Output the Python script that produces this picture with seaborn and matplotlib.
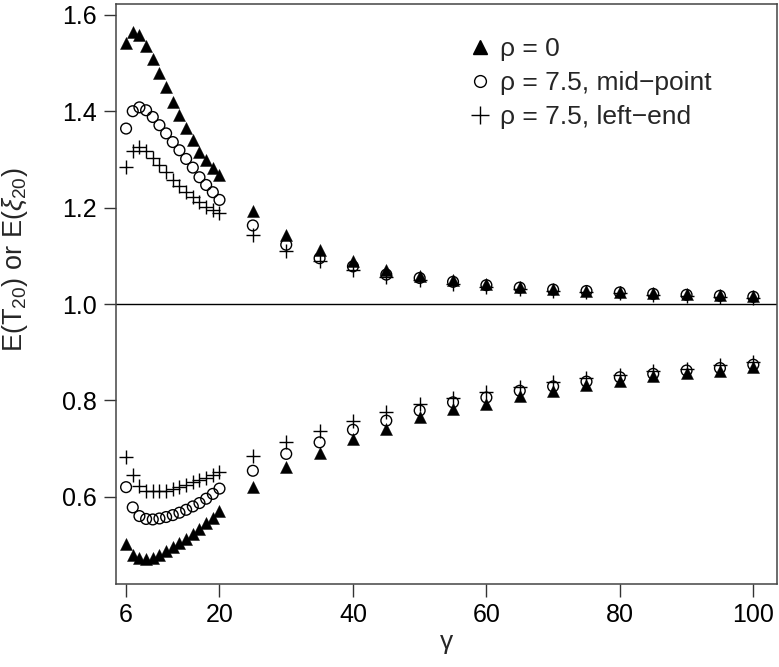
import matplotlib
matplotlib.use("Agg")
import matplotlib.pyplot as plt
import seaborn as sns
from matplotlib.lines import Line2D

# gamma grid: every 1 up to 20, then every 5
gamma = [6, 7, 8, 9, 10, 11, 12, 13, 14, 15, 16, 17, 18, 19, 20,
         25, 30, 35, 40, 45, 50, 55, 60, 65, 70, 75, 80, 85, 90, 95, 100]

# E(T20), upper branch
t_rho0 = [1.542, 1.565, 1.558, 1.535, 1.508, 1.480, 1.450, 1.420, 1.392,
          1.365, 1.340, 1.316, 1.298, 1.282, 1.267,
          1.192, 1.144, 1.113, 1.090, 1.071, 1.059, 1.050, 1.042, 1.036,
          1.032, 1.028, 1.025, 1.022, 1.020, 1.018, 1.016]
t_mid = [1.364, 1.400, 1.408, 1.402, 1.388, 1.371, 1.354, 1.336, 1.319,
         1.301, 1.283, 1.263, 1.247, 1.232, 1.216,
         1.163, 1.123, 1.095, 1.078, 1.061, 1.054, 1.046, 1.039, 1.034,
         1.030, 1.027, 1.024, 1.021, 1.019, 1.017, 1.015]
t_left = [1.285, 1.318, 1.325, 1.318, 1.303, 1.288, 1.273, 1.258, 1.245,
          1.232, 1.221, 1.211, 1.202, 1.195, 1.188,
          1.144, 1.111, 1.089, 1.070, 1.056, 1.049, 1.042, 1.036, 1.031,
          1.028, 1.025, 1.022, 1.019, 1.017, 1.015, 1.013]

# E(xi20), lower branch
x_rho0 = [0.503, 0.480, 0.472, 0.471, 0.474, 0.480, 0.487, 0.495, 0.504,
          0.513, 0.523, 0.534, 0.545, 0.557, 0.570,
          0.621, 0.661, 0.690, 0.720, 0.741, 0.765, 0.782, 0.793, 0.809,
          0.820, 0.832, 0.841, 0.850, 0.857, 0.862, 0.870]
x_mid = [0.620, 0.578, 0.560, 0.554, 0.553, 0.555, 0.558, 0.562, 0.567,
         0.573, 0.580, 0.587, 0.596, 0.606, 0.617,
         0.654, 0.689, 0.713, 0.739, 0.758, 0.779, 0.796, 0.806, 0.820,
         0.829, 0.839, 0.848, 0.855, 0.862, 0.867, 0.874]
x_left = [0.683, 0.645, 0.622, 0.613, 0.611, 0.611, 0.613, 0.616, 0.620,
          0.625, 0.630, 0.635, 0.640, 0.646, 0.652,
          0.685, 0.713, 0.737, 0.758, 0.775, 0.793, 0.806, 0.817, 0.827,
          0.838, 0.846, 0.853, 0.860, 0.866, 0.873, 0.880]

labels = ["ρ = 0", "ρ = 7.5, mid\u2212point", "ρ = 7.5, left\u2212end"]

sns.set_style("ticks")
plt.rcParams["font.family"] = ["Liberation Sans", "DejaVu Sans"]
plt.rcParams["mathtext.fontset"] = "custom"
plt.rcParams["mathtext.rm"] = "Liberation Sans"
plt.rcParams["mathtext.it"] = "Liberation Sans:italic"

fig = plt.figure(figsize=(7.79, 6.67), dpi=100)
ax = fig.add_axes([0.149, 0.1244, 0.848, 0.870])

# triangles (rho = 0)
for col in [t_rho0, x_rho0]:
    sns.scatterplot(x=gamma, y=col, marker="^", s=75, color="black",
                    edgecolor="black", linewidth=0.3, ax=ax, zorder=3)
# open circles (mid-point)
for col in [t_mid, x_mid]:
    sns.scatterplot(x=gamma, y=col, marker="o", s=60, facecolor="none",
                    edgecolor="black", linewidth=1.0, ax=ax, zorder=4)
# crosses (left-end)
for col in [t_left, x_left]:
    sns.scatterplot(x=gamma, y=col, marker="+", s=110, color="black",
                    linewidth=1.0, ax=ax, zorder=5)

ax.axhline(1.0, color="black", lw=1.0, zorder=2)

ax.set_xlim(4.5, 103.5)
ax.set_ylim(0.419, 1.623)
ax.set_xticks([6, 20, 40, 60, 80, 100])
ax.set_yticks([0.6, 0.8, 1.0, 1.2, 1.4, 1.6])
ax.set_yticklabels(["0.6", "0.8", "1.0", "1.2", "1.4", "1.6"])
ax.tick_params(axis="both", labelsize=18, length=9, width=1.0,
               direction="out", colors="#333333", labelcolor="black", pad=5)
for sp in ax.spines.values():
    sp.set_visible(True)
    sp.set_linewidth(1.1)
    sp.set_color("#444444")

ax.set_xlabel("γ", fontsize=19)
ax.xaxis.set_label_coords(0.5, -0.08)
ax.set_ylabel(r"E(T$_{20}$) or E($\xi_{20}$)", fontsize=19.5)
ax.yaxis.set_label_coords(-0.13, 0.559)

handles = [
    Line2D([], [], ls="", marker="^", ms=10, color="black"),
    Line2D([], [], ls="", marker="o", ms=8.5, mfc="none", mec="black", mew=1.0),
    Line2D([], [], ls="", marker="+", ms=13, color="black", mew=1.0),
]
ax.legend(handles, labels, loc="upper left", bbox_to_anchor=(0.499, 0.983),
          frameon=False, fontsize=19, handlelength=0.8, handletextpad=0.37,
          labelspacing=0.38, borderpad=0.4)

fig.savefig("out.png", dpi=100)
